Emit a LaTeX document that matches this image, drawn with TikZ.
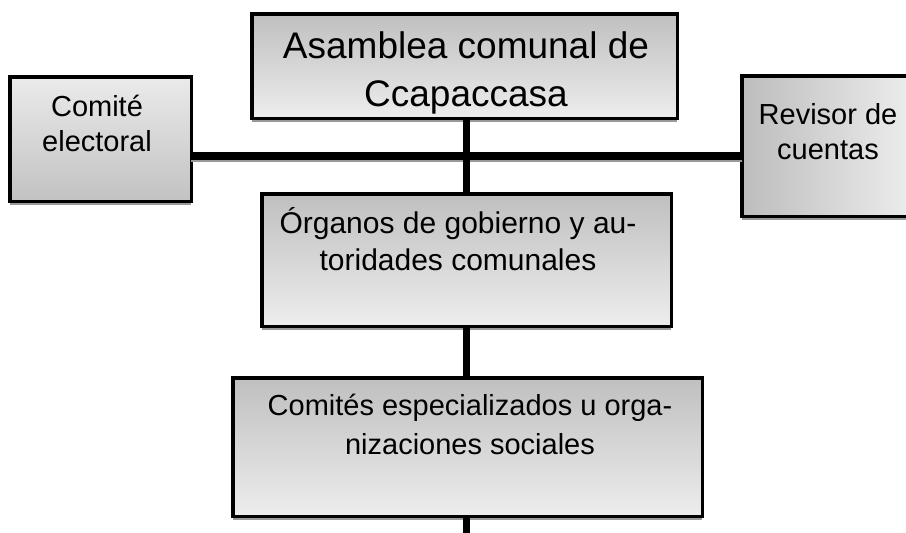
\documentclass[tikz,border=0pt]{standalone}
\usepackage{fontspec}
\setmainfont{Liberation Sans}
\usetikzlibrary{shadows}
\begin{document}
\begin{tikzpicture}[x=1pt,y=-1pt,
  boxbase/.style={draw=black,line width=3.5pt,rectangle,inner sep=0pt,outer sep=0pt,
    drop shadow={shadow xshift=0pt,shadow yshift=-4pt,fill=black!40,opacity=1}},
  vbox/.style={boxbase,top color=black!25,bottom color=black!7},
  vboxinv/.style={boxbase,top color=black!8,bottom color=black!24},
  hbox/.style={boxbase,left color=black!26,right color=black!7},
  conn/.style={draw=black,line width=7.5pt},
  small/.style={font=\fontsize{29}{33}\selectfont,anchor=base,inner sep=0pt},
  mid/.style={font=\fontsize{30}{34}\selectfont,anchor=base,inner sep=0pt},
  big/.style={font=\fontsize{37}{42}\selectfont,anchor=base,inner sep=0pt}]
\clip (0,0) rectangle (906,533);
\fill[white] (0,0) rectangle (906,533);
\coordinate (hy) at (0,156);
\coordinate (vx) at (466.5,0);
\coordinate (bottomend) at (466.5,540);
\node[vbox,minimum width=425.5pt,minimum height=104.5pt] (top) at (464.5,66) {};
\node[vboxinv,minimum width=181.5pt,minimum height=124.5pt] (left) at (100.5,139) {};
\node[hbox,minimum width=172.5pt,minimum height=140.5pt] (right) at (828,146) {};
\draw[line width=3pt,black!40] ([yshift=-4pt]left.east |- hy) -- ([yshift=-4pt]right.west |- hy);
\draw[conn] (left.east |- hy) -- (right.west |- hy);
\draw[conn] (top.south -| vx) -- (hy -| vx);
\node[vbox,minimum width=409.5pt,minimum height=132.5pt] (b1) at (466.5,260) {};
\node[vbox,minimum width=469.5pt,minimum height=138.5pt] (b2) at (467.5,447) {};
\draw[conn] (hy -| vx) -- (b1.north -| vx);
\draw[conn] (b1.south -| vx) -- (b2.north -| vx);
\draw[conn] (b2.south -| vx) -- (bottomend);
% texts
\node[big] (t1a) at (466,58) {Asamblea comunal de};
\node[big] (t1b) at (466,106) {Ccapaccasa};
\node[small] (t2a) at (97,116) {Comité};
\node[small] (t2b) at (97,151) {electoral};
\node[small] (t3a) at (828,124) {Revisor de};
\node[small] (t3b) at (828,159) {cuentas};
\node[mid] (t4a) at (458,233) {Órganos de gobierno y au-};
\node[mid] (t4b) at (458,270) {toridades comunales};
\node[small] (t5a) at (470,415) {Comités especializados u orga-};
\node[small] (t5b) at (470,454) {nizaciones sociales};
\end{tikzpicture}
\end{document}
